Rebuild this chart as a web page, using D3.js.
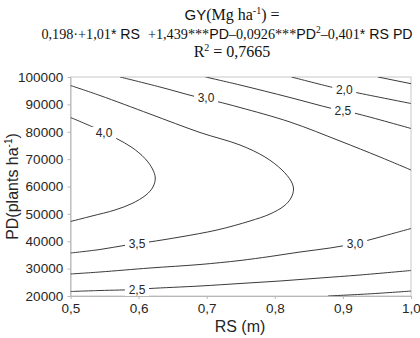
<!DOCTYPE html>
<html><head><meta charset="utf-8">
<script src="https://cdn.jsdelivr.net/npm/d3@7"></script>
<style>
html,body{margin:0;padding:0;background:#fff;}
svg{display:block;}
</style></head>
<body>
<script>
// ---- data ----
const rsTicks = [0.5, 0.6, 0.7, 0.8, 0.9, 1.0];
const pdTicks = [20000, 30000, 40000, 50000, 60000, 70000, 80000, 90000, 100000];

// contour lines: [RS, PD]
const c15 = [[0.9515,100000],[1.0,97553]];
const c20upper = [[0.8245,100000],[0.8855,96164],[0.9192,94338],[1.0,90320]];
const c20lower = [[0.878,20000],[0.94,20800],[1.0,21800]];
const c25upper = [[0.6982,100000],[0.7489,97078],[0.8223,92511],[0.884,88493],[0.9192,86667],[1.0,81187]];
const c25lower = [[0.5,21642],[0.5433,22008],[0.5977,22373],[0.6167,22738],[0.6902,23652],[0.7489,24565],[0.8076,25478],[0.8664,26574],[0.9251,27670],[1.0,29314]];
const c30upper = [[0.5727,100000],[0.6314,96347],[0.6828,92877],[0.7151,91050],[0.7489,88858],[0.8223,83561],[0.8957,76620],[0.9545,70776],[1.0,66027]];
const c30lower = [[0.5,28036],[0.5433,28767],[0.6167,30228],[0.6902,31507],[0.7489,32968],[0.7930,34429],[0.8370,36073],[0.8811,37534],[0.9178,39178],[0.9545,41552],[1.0,44657]];
const c35 = [[0.5,96895],[0.5433,93242],[0.6167,86484],[0.6902,79726],[0.7489,75160],[0.7856,70776],[0.8106,66027],[0.8238,62009],[0.8275,59086],[0.8238,55799],[0.8135,52877],[0.7930,49954],[0.7636,47397],[0.7151,44109],[0.6608,41552],[0.6153,39726],[0.5830,38630],[0.5433,36986],[0.5,35708]];
const c40 = [[0.5,85205],[0.536,81370],[0.5675,77534],[0.5903,74247],[0.6094,70228],[0.6204,66393],[0.6245,63105],[0.6211,59818],[0.6109,56895],[0.5903,53790],[0.5653,51416],[0.5316,49224],[0.5,47215]];
const contourLines = [c15, c20upper, c20lower, c25upper, c25lower, c30upper, c30lower, c35, c40];

// contour labels: text, RS, PD
const labelText = ["2,0", "2,5", "3,0", "4,0", "3,5", "3,0", "2,5"];
const labelRS   = [0.902, 0.9001, 0.699, 0.5492, 0.5977, 0.9178, 0.5977];
const labelPD   = [95434, 87580, 92329, 79543, 39178, 39178, 22190];

// ---- layout ----
const W = 420, H = 338;
const m = {left: 70.5, right: 411, top: 77, bottom: 296};

const svg = d3.select("body").append("svg").attr("width", W).attr("height", H);

const x = d3.scaleLinear().domain([0.5, 1.0]).range([m.left, m.right]);
const y = d3.scaleLinear().domain([20000, 100000]).range([m.bottom, m.top]);

const sans = "'Liberation Sans', Arial, sans-serif";
const serif = "'Liberation Serif', 'Times New Roman', serif";

// title
const t1 = svg.append("text").attr("x", 232).attr("y", 20).attr("text-anchor", "middle").attr("fill", "#111");
t1.append("tspan").attr("font-family", sans).attr("font-size", 15).text("GY");
t1.append("tspan").attr("font-family", serif).attr("font-size", 16).text("(Mg ha");
t1.append("tspan").attr("font-family", serif).attr("font-size", 10).attr("dy", -6).text("-1");
t1.append("tspan").attr("font-family", serif).attr("font-size", 16).attr("dy", 6).text(") =");

const fs2 = 14.2;
const t2 = svg.append("text").attr("x", 227).attr("y", 39).attr("text-anchor", "middle").attr("fill", "#111");
const seg = [
  [serif, "0,198"], [serif, "·+1,01"], [sans, "* RS  "], [serif, "+1,439***"], [sans, "PD"],
  [serif, "–0,0926***"], [sans, "PD"]
];
seg.forEach(s => t2.append("tspan").attr("font-family", s[0]).attr("font-size", fs2).attr("xml:space","preserve").text(s[1]));
t2.append("tspan").attr("font-family", serif).attr("font-size", 9.5).attr("dy", -6).text("2");
t2.append("tspan").attr("font-family", serif).attr("font-size", fs2).attr("dy", 6).text("–0,401");
t2.append("tspan").attr("font-family", sans).attr("font-size", fs2).text("* RS PD");

const t3 = svg.append("text").attr("x", 232).attr("y", 57).attr("text-anchor", "middle").attr("fill", "#111")
  .attr("font-family", serif).attr("font-size", 16);
t3.append("tspan").text("R");
t3.append("tspan").attr("font-size", 10).attr("dy", -6).text("2");
t3.append("tspan").attr("dy", 6).text(" = 0,7665");

// plot frame
svg.append("rect").attr("x", m.left).attr("y", m.top).attr("width", m.right - m.left).attr("height", m.bottom - m.top)
  .attr("fill", "none").attr("stroke", "#c8c8c8").attr("stroke-width", 1);

// axes
const fmtX = d => d3.format(".1f")(d).replace(".", ",");
const xAxis = svg.append("g").attr("transform", `translate(0,${m.bottom})`)
  .call(d3.axisBottom(x).tickValues(rsTicks).tickFormat(fmtX).tickSize(3).tickSizeOuter(0));
const yAxis = svg.append("g").attr("transform", `translate(${m.left},0)`)
  .call(d3.axisLeft(y).tickValues(pdTicks).tickFormat(d3.format("d")).tickSize(3).tickSizeOuter(0));
[xAxis, yAxis].forEach(a => {
  a.select(".domain").attr("stroke", "#b8b8b8");
  a.selectAll(".tick line").attr("stroke", "#b8b8b8");
  a.selectAll("text").attr("font-family", sans).attr("font-size", 13.5).attr("fill", "#262626");
});
xAxis.selectAll("text").attr("dy", "0.8em");
yAxis.selectAll("text").attr("dx", "-0.1em");

// axis titles
svg.append("text").attr("x", 240).attr("y", 332).attr("text-anchor", "middle")
  .attr("font-family", sans).attr("font-size", 16).attr("fill", "#262626").text("RS (m)");
const yt = svg.append("text").attr("transform", `translate(18,${(m.top + m.bottom) / 2}) rotate(-90)`)
  .attr("text-anchor", "middle").attr("font-family", sans).attr("font-size", 16).attr("fill", "#262626");
yt.append("tspan").text("PD(plants ha");
yt.append("tspan").attr("font-size", 10).attr("dy", -6).text("-1");
yt.append("tspan").attr("dy", 6).text(")");

// contours
svg.append("clipPath").attr("id", "clip").append("rect")
  .attr("x", m.left).attr("y", m.top).attr("width", m.right - m.left).attr("height", m.bottom - m.top);
const line = d3.line().x(d => x(d[0])).y(d => y(d[1])).curve(d3.curveCatmullRom.alpha(0.5));
const cg = svg.append("g").attr("clip-path", "url(#clip)");
cg.selectAll("path").data(contourLines).join("path")
  .attr("d", line).attr("fill", "none").attr("stroke", "#3a3a3a").attr("stroke-width", 1);

// labels
const lg = svg.append("g");
labelText.forEach((t, i) => {
  const cx = x(labelRS[i]), cy = y(labelPD[i]);
  lg.append("rect").attr("x", cx - 12).attr("y", cy - 6).attr("width", 24).attr("height", 12).attr("fill", "#fff");
  lg.append("text").attr("x", cx).attr("y", cy).attr("dy", "0.36em").attr("text-anchor", "middle")
    .attr("font-family", sans).attr("font-size", 12).attr("fill", "#262626").text(t);
});
</script>
</body></html>
